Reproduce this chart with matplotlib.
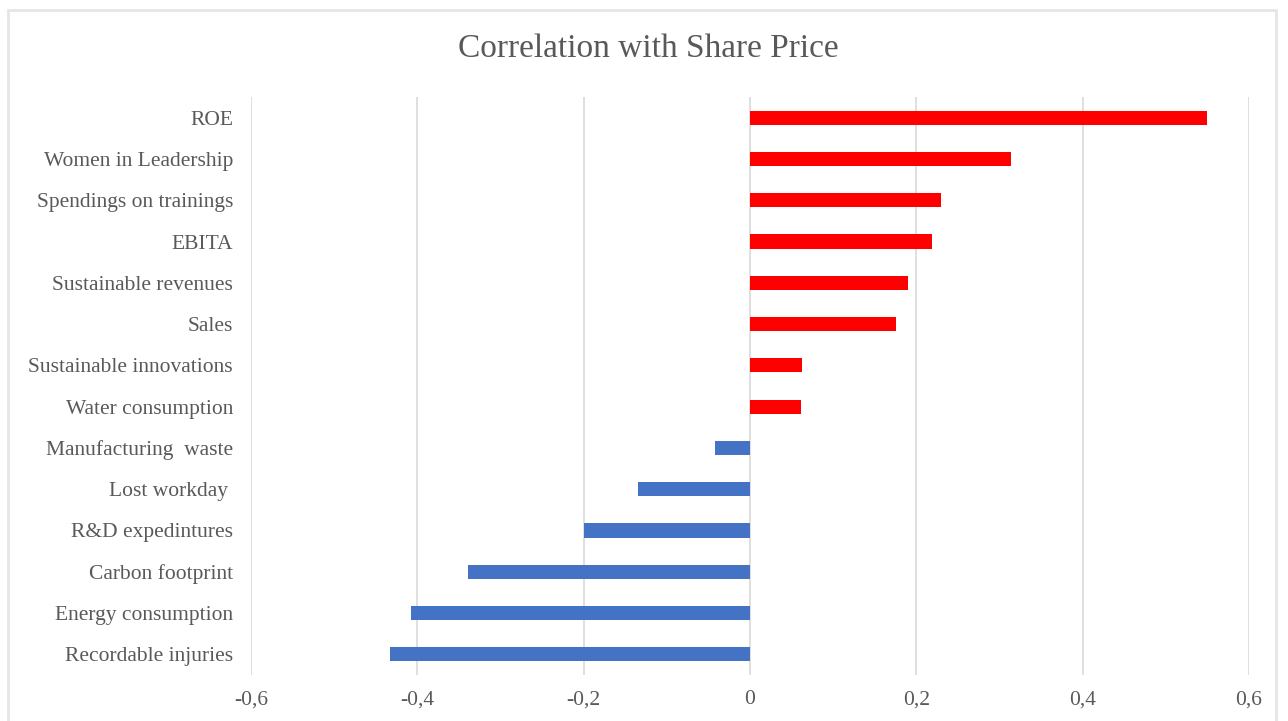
import matplotlib.pyplot as plt
from matplotlib.patches import Rectangle
from matplotlib.ticker import FuncFormatter

categories = ['ROE', 'Women in Leadership', 'Spendings on trainings', 'EBITA',
              'Sustainable revenues', 'Sales', 'Sustainable innovations',
              'Water consumption', 'Manufacturing  waste', 'Lost workday ',
              'R&D expedintures', 'Carbon footprint', 'Energy consumption',
              'Recordable injuries']
values = [0.550, 0.314, 0.230, 0.219, 0.190, 0.176, 0.063, 0.061,
          -0.042, -0.135, -0.199, -0.339, -0.408, -0.433]
xticks = [-0.6, -0.4, -0.2, 0, 0.2, 0.4, 0.6]

plt.rcParams['font.family'] = ['Liberation Serif', 'DejaVu Serif']
grey = '#595959'

fig = plt.figure(figsize=(12.88, 7.21), dpi=100)
ax = fig.add_axes([251 / 1288, 1 - 675 / 721, 998 / 1288, 578 / 721])

colors = ['#ff0000' if v > 0 else '#4472c4' for v in values]
ypos = list(range(len(categories)))
ax.barh(ypos, values, height=0.34, color=colors, zorder=3)

ax.set_ylim(len(categories) - 0.5, -0.5)
ax.set_yticks(ypos)
ax.set_yticklabels(categories)
ax.set_xlim(-0.6, 0.6)
ax.set_xticks(xticks)
ax.xaxis.set_major_formatter(FuncFormatter(lambda v, p: ('%g' % round(v, 1)).replace('.', ',')))
ax.tick_params(axis='both', length=0, labelsize=15.5, labelcolor=grey)
ax.tick_params(axis='y', pad=13)
ax.tick_params(axis='x', pad=11)
ax.grid(axis='x', color='#d9d9d9', linewidth=1.2, zorder=0)
for s in ax.spines.values():
    s.set_visible(False)

fig.text(648 / 1288, 1 - 49 / 721, 'Correlation with Share Price', ha='center', va='center',
         fontsize=24, color=grey)

fig.patches.append(Rectangle((8 / 1288, -0.02), 1268 / 1288, 1 - 10 / 721 + 0.02,
                             transform=fig.transFigure, fill=False,
                             edgecolor='#e6e6e6', linewidth=2))

fig.savefig('out.png', dpi=100)
